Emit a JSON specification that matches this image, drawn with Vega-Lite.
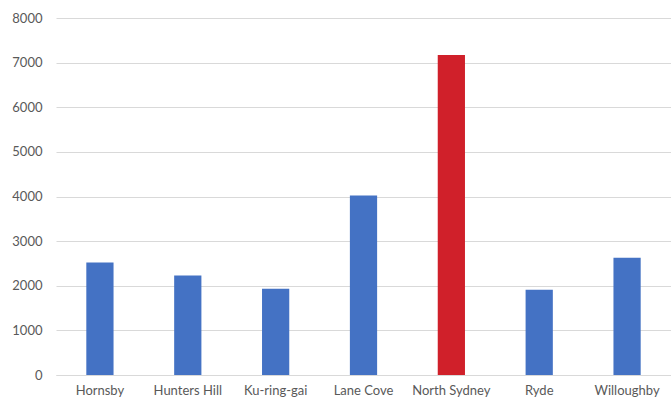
{
  "$schema": "https://vega.github.io/schema/vega-lite/v6.json",
  "autosize": "none",
  "width": 615,
  "height": 357,
  "padding": {"left": 56, "top": 18, "right": 0, "bottom": 30},
  "background": "white",
  "data": {"values": [
    {"council": "Hornsby", "value": 2520, "highlight": "no"},
    {"council": "Hunters Hill", "value": 2230, "highlight": "no"},
    {"council": "Ku-ring-gai", "value": 1930, "highlight": "no"},
    {"council": "Lane Cove", "value": 4020, "highlight": "no"},
    {"council": "North Sydney", "value": 7170, "highlight": "yes"},
    {"council": "Ryde", "value": 1910, "highlight": "no"},
    {"council": "Willoughby", "value": 2630, "highlight": "no"}
  ]},
  "config": {
    "view": {"stroke": null},
    "font": "Lato"
  },
  "mark": {"type": "bar"},
  "encoding": {
    "x": {
      "field": "council", "type": "nominal", "sort": null,
      "scale": {"paddingInner": 0.69, "paddingOuter": 0.345},
      "axis": {
        "title": null, "labelAngle": 0, "ticks": false,
        "domainColor": "#d9d9d9", "domainWidth": 1,
        "labelColor": "#595959", "labelFontSize": 13, "labelPadding": 9,
        "labelFont": "Lato"
      }
    },
    "y": {
      "field": "value", "type": "quantitative",
      "scale": {"domain": [0, 8000], "nice": false},
      "axis": {
        "title": null, "values": [0, 1000, 2000, 3000, 4000, 5000, 6000, 7000, 8000],
        "format": "d",
        "domain": false, "ticks": false, "gridColor": "#d9d9d9", "gridWidth": 1,
        "labelColor": "#595959", "labelFontSize": 13, "labelPadding": 14,
        "labelFont": "Lato"
      }
    },
    "color": {
      "field": "highlight", "type": "nominal",
      "scale": {"domain": ["no", "yes"], "range": ["#4472C4", "#D0202A"]},
      "legend": null
    }
  }
}
